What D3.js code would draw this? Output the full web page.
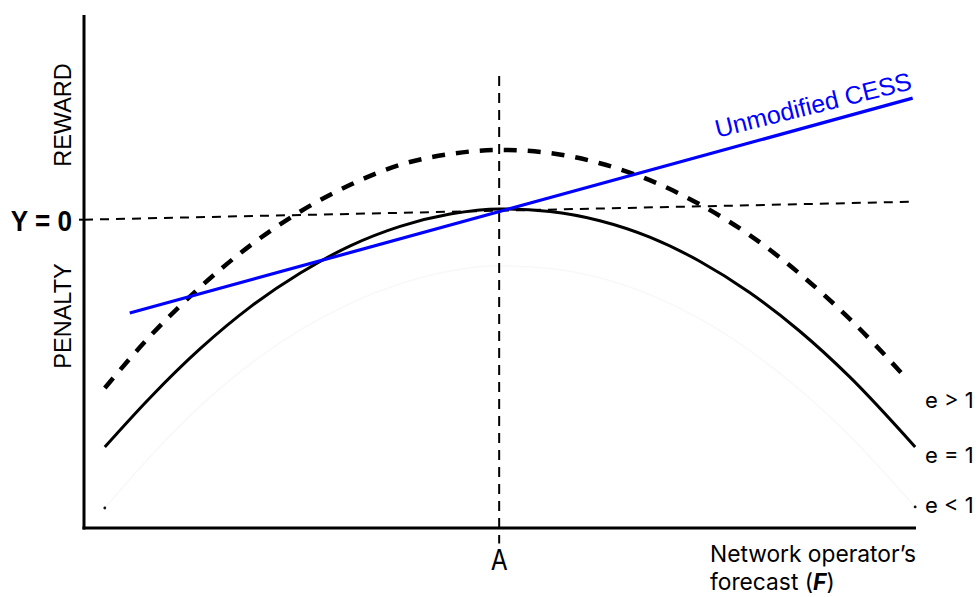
<!DOCTYPE html>
<html><head><meta charset="utf-8">
<script src="https://cdn.jsdelivr.net/npm/d3@7"></script>
<style>body{margin:0;background:#fff}svg{display:block}</style>
</head><body>
<svg id="c" width="980" height="597"></svg>
<script>
// Forecast positions (F) sampled along the curves, and the read-off values
const F = [2.5, 8, 14, 20, 26, 32, 38, 44, 50, 56, 62, 68, 74, 80, 86, 92, 99.9];
const eEq1 = [-46.2, -36.5, -27.0, -18.9, -12.3, -7.0, -3.2, -0.8, 0.2, -0.3, -2.1, -5.3, -10.0, -16.1, -23.6, -32.5, -46.2];
const F_gt = [2.5, 8, 14, 20, 26, 32, 38, 44, 50, 56, 62, 68, 74, 80, 86, 92, 99];
const eGt1 = [-34.7, -24.5, -15.0, -6.9, -0.3, 4.9, 8.8, 10.9, 11.7, 11.1, 9.1, 5.8, 1.1, -4.9, -12.4, -21.2, -33.1];
const eLt1 = [-58.1, -48.0, -38.2, -30.0, -23.4, -18.2, -14.4, -11.9, -10.9, -11.4, -13.2, -16.5, -21.2, -27.4, -35.0, -44.0, -57.9];
const cessF = [5.5, 99.6];
const cessY = [-20.1, 21.8];
const zeroF = [0, 99.6];
const zeroY = [-1.9, 1.6];
const pointA = 49.9;
const vLineY = [26.1, -65.0];
const curveLabels = ["e > 1", "e = 1", "e < 1"];

const svg = d3.select("#c");
const x = d3.scaleLinear().domain([0, 100]).range([84, 916]);
const y = d3.scaleLinear().domain([-62, 38]).range([528, 15]);
const line = d3.line().x(d => x(d[0])).y(d => y(d[1]));
const smooth = d3.line().x(d => x(d[0])).y(d => y(d[1])).curve(d3.curveMonotoneX);

// faint e<1 curve
svg.append("path").datum(F.map((f,i)=>[f,eLt1[i]])).attr("d", smooth)
  .attr("fill","none").attr("stroke","#f8f8f8").attr("stroke-width",1.5);
[[F[0],eLt1[0]],[F[F.length-1],eLt1[eLt1.length-1]]].forEach(p=>{
  svg.append("circle").attr("cx",x(p[0])).attr("cy",y(p[1])).attr("r",1.4).attr("fill","#111");
});

// zero line
svg.append("path").datum(zeroF.map((f,i)=>[f,zeroY[i]])).attr("d", line)
  .attr("fill","none").attr("stroke","#000").attr("stroke-width",2).attr("stroke-dasharray","9,7");
// vertical at A
svg.append("path").datum(vLineY.map(v=>[pointA,v])).attr("d", line)
  .attr("fill","none").attr("stroke","#000").attr("stroke-width",2).attr("stroke-dasharray","10,7");

// e>1 dashed
svg.append("path").datum(F_gt.map((f,i)=>[f,eGt1[i]])).attr("d", smooth)
  .attr("fill","none").attr("stroke","#000").attr("stroke-width",4.5).attr("stroke-dasharray","13,11");
// e=1 solid
svg.append("path").datum(F.map((f,i)=>[f,eEq1[i]])).attr("d", smooth)
  .attr("fill","none").attr("stroke","#000").attr("stroke-width",3);
// CESS
svg.append("path").datum(cessF.map((f,i)=>[f,cessY[i]])).attr("d", line)
  .attr("fill","none").attr("stroke","#0000ff").attr("stroke-width",3.2);

// axes
svg.append("line").attr("x1",x(0)).attr("x2",x(0)).attr("y1",y(38)).attr("y2",y(-62)+1.5)
  .attr("stroke","#000").attr("stroke-width",3);
svg.append("line").attr("x1",x(0)-1.5).attr("x2",x(100)).attr("y1",y(-62)).attr("y2",y(-62))
  .attr("stroke","#000").attr("stroke-width",3);
svg.append("line").attr("x1",x(0)-5).attr("x2",x(0)).attr("y1",y(zeroY[0])).attr("y2",y(zeroY[0]))
  .attr("stroke","#000").attr("stroke-width",2);

// labels
const arial = "'Liberation Sans', Arial, sans-serif";
const ui = "Inter, 'Open Sans', sans-serif";
svg.append("text").attr("transform",`translate(71,115) rotate(-90)`).attr("text-anchor","middle")
  .attr("font-family",arial).attr("font-size",23.5).text("REWARD");
svg.append("text").attr("transform",`translate(71,316) rotate(-90)`).attr("text-anchor","middle")
  .attr("font-family",arial).attr("font-size",23.5).text("PENALTY");
svg.append("text").attr("transform",`translate(72,${y(zeroY[0])+11}) scale(0.9,1)`).attr("text-anchor","end")
  .attr("font-family",arial).attr("font-weight","bold").attr("font-size",29).text("Y = 0");
svg.append("text").attr("transform",`translate(${x(pointA)},570) scale(0.85,1)`).attr("text-anchor","middle")
  .attr("font-family",ui).attr("font-size",29).text("A");
svg.append("text").attr("transform","translate(710,562) scale(0.99,1)").attr("font-family",ui).attr("font-size",23).text("Network operator\u2019s");
const t2 = svg.append("text").attr("transform","translate(710,590) scale(0.99,1)").attr("font-family",ui).attr("font-size",23);
t2.append("tspan").text("forecast (");
t2.append("tspan").attr("font-weight","bold").attr("font-style","italic").text("F");
t2.append("tspan").text(")");

const labY = [408, 463, 513];
curveLabels.forEach((s,i)=>{
  svg.append("text").attr("x",925).attr("y",labY[i]).attr("font-family",ui).attr("font-size",22)
    .text(s);
});

// CESS label
svg.append("text").attr("transform",`translate(913,89) rotate(-14)`).attr("text-anchor","end")
  .attr("font-family",arial).attr("font-size",25).attr("fill","#0000ff").text("Unmodified CESS");
</script>
</body></html>
